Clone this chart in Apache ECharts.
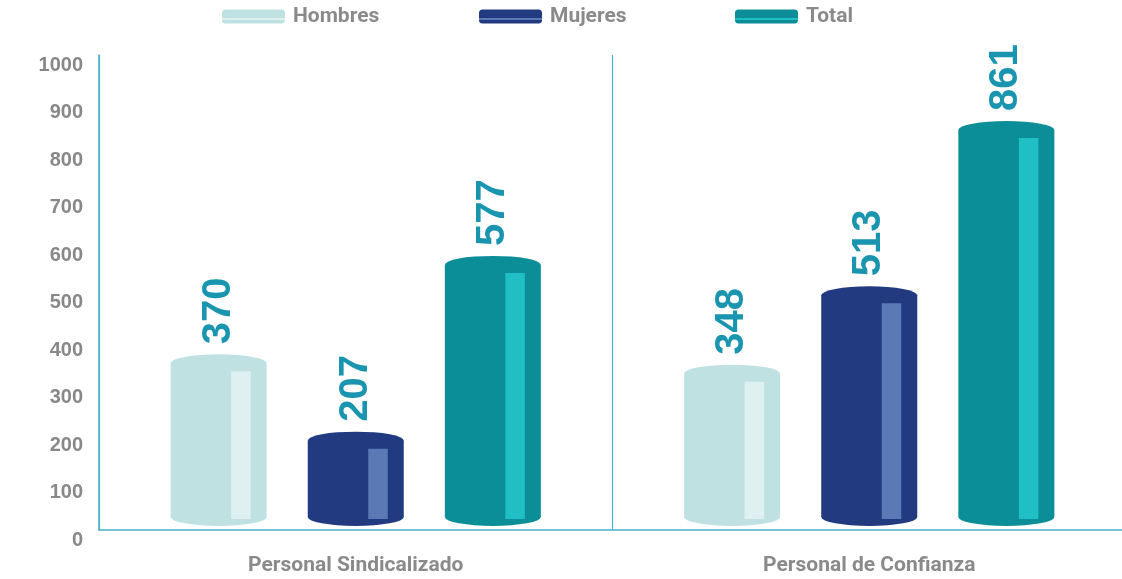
<!DOCTYPE html>
<html>
<head>
<meta charset="utf-8">
<script src="https://cdn.jsdelivr.net/npm/echarts@6/dist/echarts.min.js"></script>
<style>html,body{margin:0;padding:0;background:#fff}#c{width:1122px;height:579px}</style>
</head>
<body>
<div id="c"></div>
<script>
const categories = ['Personal Sindicalizado', 'Personal de Confianza'];
const hombres = [370, 348];
const mujeres = [207, 513];
const total = [577, 861];
const seriesNames = ['Hombres', 'Mujeres', 'Total'];
const yTicks = [0, 1000, 100];

const baseColors = ['#c0e1e2', '#213a80', '#0b8e97'];
const lightColors = ['#dff0f0', '#5b79b5', '#1fbfc5'];
const offsets = [-0.267, 0, 0.267];
const legendLefts = [222, 479, 735];
const axisColor = '#4ab2c9';

function makeRender(idx) {
  return function (params, api) {
    const cat = api.value(0), val = api.value(1);
    const band = api.size([1, 0])[0];
    const top = api.coord([cat, val]);
    const base = api.coord([cat, 0]);
    const cx = top[0] + offsets[idx] * band;
    const w = band * 0.187;
    const rx = w / 2, ry = 9;
    const x0 = cx - rx, x1 = cx + rx;
    const yT = top[1], yB = base[1] - 4;
    const path = 'M' + x0 + ' ' + (yT + ry) +
      ' A' + rx + ' ' + ry + ' 0 0 1 ' + x1 + ' ' + (yT + ry) +
      ' L' + x1 + ' ' + (yB - ry) +
      ' A' + rx + ' ' + ry + ' 0 0 1 ' + x0 + ' ' + (yB - ry) + ' Z';
    const sx = cx + 12.5, sw = 19.5;
    const sTop = yT + 17, sBot = base[1] - 11;
    return {
      type: 'group',
      children: [
        { type: 'path', shape: { pathData: path }, style: { fill: baseColors[idx] } },
        { type: 'rect', shape: { x: sx, y: sTop, width: sw, height: Math.max(0, sBot - sTop) }, style: { fill: lightColors[idx] } },
        {
          type: 'text', x: cx, y: yT - 10, rotation: Math.PI / 2,
          style: {
            text: String(val), fill: '#1a95b0', font: 'bold 40px "Liberation Sans", Arial, sans-serif',
            align: 'left', verticalAlign: 'middle'
          }
        }
      ]
    };
  };
}

const valueSets = [hombres, mujeres, total];
const series = seriesNames.map((n, i) => ({
  name: n,
  type: 'custom',
  renderItem: makeRender(i),
  itemStyle: { color: baseColors[i] },
  encode: { x: 0, y: 1 },
  data: valueSets[i].map((v, k) => [k, v]),
  clip: false,
  z: 3
}));

function legendGrad(i) {
  return new echarts.graphic.LinearGradient(0, 0, 0, 1, [
    { offset: 0, color: baseColors[i] },
    { offset: 0.6, color: baseColors[i] },
    { offset: 0.6, color: lightColors[i] },
    { offset: 0.78, color: lightColors[i] },
    { offset: 0.78, color: baseColors[i] },
    { offset: 1, color: baseColors[i] }
  ]);
}

const legends = seriesNames.map((n, i) => ({
  left: legendLefts[i], top: 6,
  icon: 'roundRect',
  itemWidth: 63, itemHeight: 14,
  padding: 0,
  textStyle: { color: '#8a8a8a', fontSize: 21, fontWeight: 'bold', fontFamily: 'Roboto, sans-serif', padding: [0, 0, 0, 3] },
  data: [{ name: n, itemStyle: { color: legendGrad(i) } }]
}));

const chart = echarts.init(document.getElementById('c'), null, { renderer: 'canvas' });
chart.setOption({
  animation: false,
  backgroundColor: '#ffffff',
  legend: legends,
  grid: { left: 99, width: 1027, top: 55, height: 475, outerBoundsMode: 'none', containLabel: false },
  xAxis: {
    type: 'category',
    data: categories,
    axisLine: { show: true, lineStyle: { color: axisColor, width: 1.5 } },
    axisTick: { show: false },
    splitLine: { show: true, lineStyle: { color: axisColor, width: 1.2 } },
    axisLabel: { color: '#8a8a8a', fontSize: 21, fontWeight: 'bold', fontFamily: 'Roboto, sans-serif', margin: 25 }
  },
  yAxis: {
    type: 'value',
    min: yTicks[0], max: yTicks[1], interval: yTicks[2],
    axisLine: { show: true, lineStyle: { color: axisColor, width: 1.5 } },
    axisTick: { show: false },
    splitLine: { show: false },
    axisLabel: {
      color: '#888888', fontSize: 20, fontWeight: 'bold', fontFamily: '"Liberation Sans", Arial, sans-serif',
      margin: 16, verticalAlign: 'top', padding: [0, 0, 0, 0],
      formatter: v => String(v)
    }
  },
  series: series
});
</script>
</body>
</html>
